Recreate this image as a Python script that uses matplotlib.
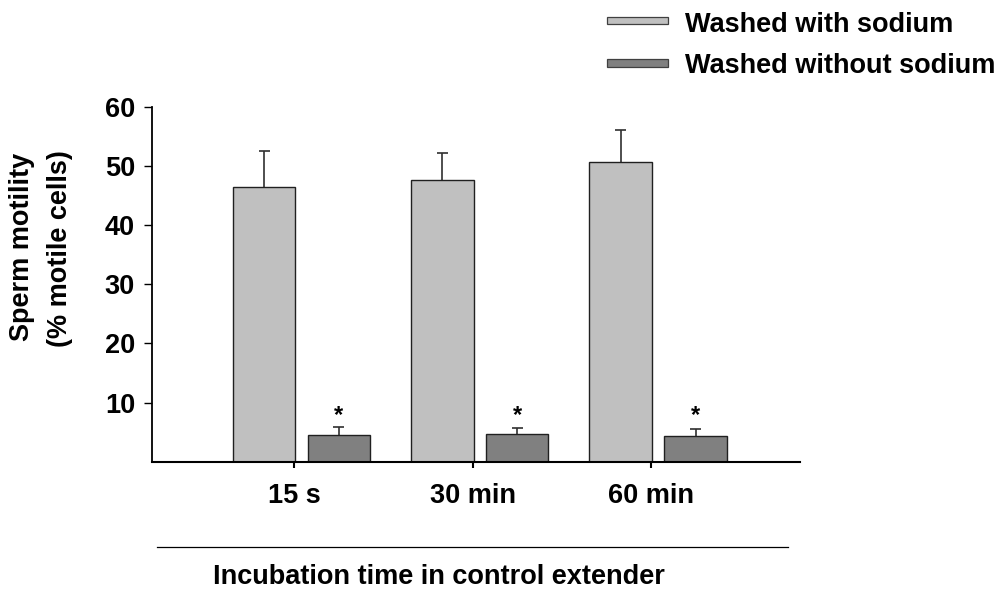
import matplotlib
matplotlib.use("Agg")
import matplotlib.pyplot as plt
from matplotlib.patches import Rectangle
from matplotlib.lines import Line2D
import numpy as np

categories = ["15 s", "30 min", "60 min"]
with_sodium = [46.5, 47.6, 50.6]
with_sodium_err = [6.0, 4.6, 5.5]
without_sodium = [4.5, 4.7, 4.35]
without_sodium_err = [1.35, 1.0, 1.25]
series_labels = ["Washed with sodium", "Washed without sodium"]
yticks = [10, 20, 30, 40, 50, 60]

plt.rcParams['font.family'] = ['Liberation Sans', 'DejaVu Sans']
plt.rcParams['font.weight'] = 'bold'
FS = 19.5
W, H = 1005, 591
fig = plt.figure(figsize=(W / 100, H / 100), dpi=100)
ax = fig.add_axes([151.7 / W, (H - 461.7) / H, (800 - 151.7) / W, (461.7 - 106.7) / H])

light = '#c0c0c0'
dark = '#808080'
x = np.arange(len(categories))
bw = 0.35
off_l, off_d = -0.17, 0.25
cap = 0.031

def up_errors(xs, vals, errs):
    tops = np.asarray(vals) + np.asarray(errs)
    ax.vlines(xs, vals, tops, colors='#303030', linewidth=1.2, zorder=1)
    ax.hlines(tops, xs - cap, xs + cap, colors='#303030', linewidth=1.2, zorder=1)

ax.bar(x + off_l, with_sodium, bw, color=light, edgecolor='#202020', linewidth=1.0, zorder=2)
ax.bar(x + off_d, without_sodium, bw, color=dark, edgecolor='#202020', linewidth=1.0, zorder=2)
up_errors(x + off_l, with_sodium, with_sodium_err)
up_errors(x + off_d, without_sodium, without_sodium_err)
for xi in x:
    ax.text(xi + off_d, 6.7, '*', ha='center', va='baseline', fontsize=17, fontweight='bold')

ax.set_xlim(-0.80, 2.836)
ax.set_ylim(0, 60)
ax.set_yticks(yticks)
ax.set_yticklabels([str(t) for t in yticks], fontsize=FS, fontweight='bold')
ax.set_xticks(x)
ax.set_xticklabels(categories, fontsize=FS, fontweight='bold')
ax.tick_params(axis='y', direction='out', length=5.5, width=1.0, pad=6.5)
ax.tick_params(axis='x', direction='out', length=4.5, width=1.5, pad=10.5)
for s in ['top', 'right']:
    ax.spines[s].set_visible(False)
ax.spines['left'].set_linewidth(1.3)
ax.spines['bottom'].set_linewidth(1.5)

# y label, two lines
fig.text(22 / W, 1 - 247 / H, 'Sperm motility', rotation=90, ha='center', va='center',
         fontsize=FS, fontweight='bold')
fig.text(60 / W, 1 - 249 / H, '(% motile cells)', rotation=90, ha='center', va='center',
         fontsize=FS, fontweight='bold')

# separator line and x label
fig.add_artist(Line2D([157 / W, 788 / W], [1 - 547.3 / H, 1 - 547.3 / H],
                      transform=fig.transFigure, color='black', linewidth=0.9))
fig.text(439 / W, 1 - 584.5 / H, 'Incubation time in control extender', ha='center',
         va='baseline', fontsize=FS, fontweight='bold')

# legend
for (ytop, col, lab, base) in [(16.7, light, series_labels[0], 31.7),
                               (59.3, dark, series_labels[1], 72.7)]:
    fig.add_artist(Rectangle((607 / W, 1 - (ytop + 7.5) / H), 61 / W, 7.5 / H,
                             transform=fig.transFigure, facecolor=col,
                             edgecolor='#404040', linewidth=0.9))
    fig.text(685 / W, 1 - base / H, lab, ha='left', va='baseline', fontsize=FS,
             fontweight='bold')

fig.savefig('out.png', dpi=100)
